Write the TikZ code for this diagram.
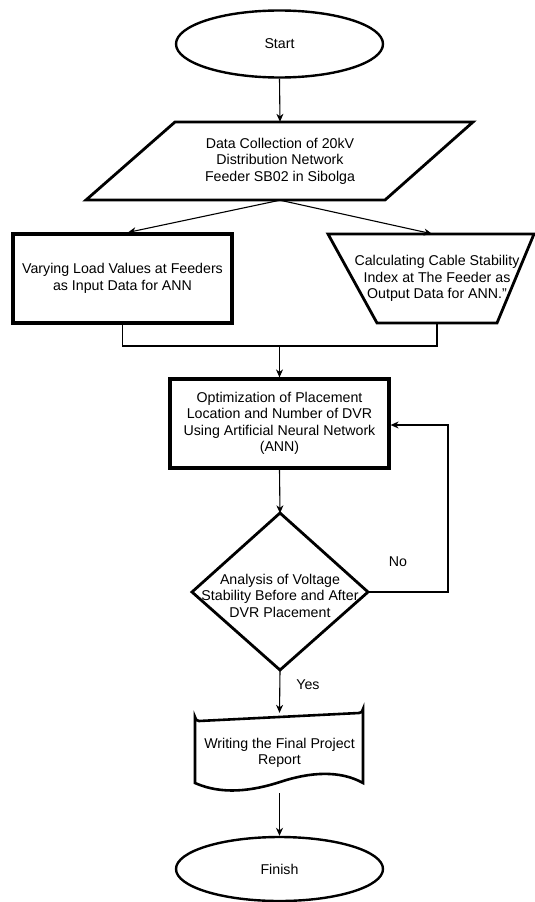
\documentclass[tikz,border=0pt]{standalone}
\usepackage{fontspec}
\setmainfont{Liberation Sans}
\usetikzlibrary{arrows.meta,shapes.geometric}

\tikzset{
  txt/.style={font=\fontsize{14.2}{16.5}\selectfont, text=black, align=center, inner sep=0pt},
  slot/.style={txt, minimum width=#1, minimum height=89pt},
  terminal/.style={txt, ellipse, draw, line width=2.4pt, minimum width=207pt, minimum height=67pt},
  procbox/.style={txt, rectangle, draw, line width=3.2pt, minimum width=219pt, minimum height=89pt},
  outline/.style={draw, line width=2.8pt, line join=miter},
  conn/.style={line width=1.1pt, draw=black},
  arrow/.style={conn, -{Stealth[length=8pt,width=7pt,inset=2.5pt]}},
  tag/.style={font=\fontsize{14.2}{16.5}\selectfont, text=black, inner sep=0pt}
}

\begin{document}
\begin{tikzpicture}[x=1pt, y=-1pt]
\useasboundingbox (0,0) rectangle (535,902);

% terminals
\node[terminal] (start) at (279.5,44) {Start};
\node[terminal, minimum height=64pt] (finish) at (279.5,869) {Finish};

% input parallelogram
\draw[outline] (175,122) -- (473,122) -- (385,200) -- (86,200) -- cycle;
\node[txt, minimum width=220pt, minimum height=78pt] (data) at (280,161)
  {Data Collection of 20kV\\Distribution Network\\Feeder SB02 in Sibolga};

% the two branches
\node[procbox] (vary) at (122.5,278.5)
  {Varying Load Values at Feeders\\as Input Data for ANN};
\draw[outline] (328,234) -- (534,234) -- (497,323) -- (377,323) -- cycle;
\node[slot=120pt] (calc) at (437,278.5)
  {Calculating Cable Stability\\Index at The Feeder as\\Output Data for ANN.''};

% optimisation step
\node[procbox] (opt) at (279.5,423.5)
  {Optimization of Placement\\Location and Number of DVR\\Using Artificial Neural Network\\(ANN)};

% decision
\draw[outline] (280,513) -- (368,592) -- (280,670) -- (192,592) -- cycle;
\node[txt, minimum width=176pt, minimum height=157pt] (dec) at (280,592) {};
\node[txt] (dectext) at (280,595.5)
  {Analysis of Voltage\\Stability Before and After\\DVR Placement};

% document shape with wavy bottom
\draw[outline, line width=2.6pt]
  (195,783) -- (195,717) arc[start angle=180, end angle=90, radius=4]
  -- (359,713) arc[start angle=90, end angle=0, radius=4] -- (363,783)
  .. controls (340,770) and (310,772) .. (280,782)
  .. controls (252,791) and (222,795) .. (195,783) -- cycle;
\node[txt, minimum width=168pt, minimum height=80pt] (doc) at (279.5,753)
  {Writing the Final Project\\Report};

% connectors
\coordinate (join) at (279.5,346);
\coordinate (loop) at (448,592);
\draw[arrow] (start.south) -- (data.north);
\draw[arrow] (data.south) -- ([xshift=5.5pt]vary.north);
\draw[arrow] (data.south) -- ([xshift=-5pt]calc.north);
\draw[conn] (vary.south) |- (join) -| (calc.south);
\draw[arrow] (join) -- (opt.north);
\draw[arrow] (opt.south) -- (dec.north);
\draw[arrow] (dec.east) -- (loop) |- ([yshift=-1.5pt]opt.east);
\draw[arrow] (dec.south) -- (doc.north);
\draw[arrow] (doc.south) -- (finish.north);

% branch labels
\node[tag] (yes) at (308,685) {Yes};
\node[tag] (no) at (398,562) {No};
\end{tikzpicture}
\end{document}
